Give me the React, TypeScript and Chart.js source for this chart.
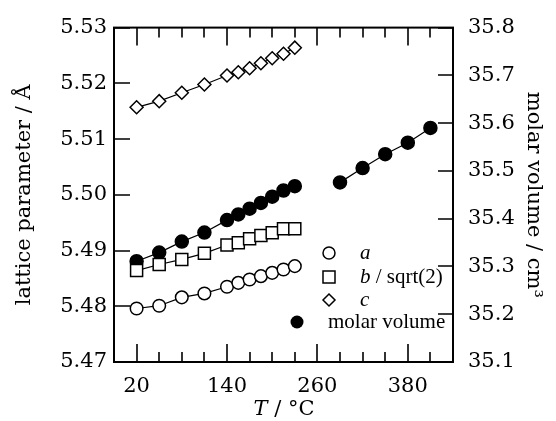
import React, { useEffect, useRef } from "react";
import { Chart, registerables } from "chart.js";

Chart.register(...registerables);

// ---- data ----
const temps = [20, 50, 80, 110, 140, 155, 170, 185, 200, 215, 230];
const aValues = [5.4796, 5.4801, 5.4816, 5.4823, 5.4835, 5.4842, 5.4848, 5.4854, 5.486, 5.4866, 5.4872];
const bValues = [5.4864, 5.4875, 5.4884, 5.4895, 5.491, 5.4914, 5.4921, 5.4927, 5.4932, 5.4939, 5.4939];
const cValues = [5.5157, 5.5168, 5.5183, 5.5198, 5.5214, 5.522, 5.5227, 5.5236, 5.5245, 5.5253, 5.5264];
const volumeLow = [35.311, 35.329, 35.352, 35.371, 35.397, 35.409, 35.421, 35.433, 35.446, 35.459, 35.468];
const tempsHigh = [290, 320, 350, 380, 410];
const volumeHigh = [35.476, 35.506, 35.535, 35.559, 35.59];

const xMajorTicks = [20, 140, 260, 380];
const xMinorTicks = [20, 50, 80, 110, 140, 170, 200, 230, 260, 290, 320, 350, 380, 410];
const leftTicks = [5.47, 5.48, 5.49, 5.5, 5.51, 5.52, 5.53];
const rightTicks = [35.1, 35.2, 35.3, 35.4, 35.5, 35.6, 35.7, 35.8];

const legendLabels = ["a", "b", "c", "molar volume"];

const AXIS_FONT = '"DejaVu Serif", serif';
const LEGEND_FONT = '"Liberation Serif", "DejaVu Serif", serif';

Chart.defaults.font.family = AXIS_FONT;

const toPts = (xs: number[], ys: number[]) => xs.map((x, i) => ({ x, y: ys[i] }));

const frameTicksPlugin = {
  id: "frameTicks",
  beforeDatasetsDraw(chart: any) {
    const { ctx, chartArea } = chart;
    const { left, right, top, bottom } = chartArea;
    const xs = chart.scales.x;
    const yl = chart.scales.y;
    const yr = chart.scales.y2;
    ctx.save();
    ctx.strokeStyle = "#000";
    ctx.lineWidth = 2;
    ctx.strokeRect(left, top, right - left, bottom - top);
    ctx.lineWidth = 1.6;
    ctx.beginPath();
    xMinorTicks.forEach((v) => {
      const px = Math.round(xs.getPixelForValue(v));
      const len = xMajorTicks.includes(v) ? 18 : 10;
      ctx.moveTo(px, bottom);
      ctx.lineTo(px, bottom - len);
      ctx.moveTo(px, top);
      ctx.lineTo(px, top + len);
    });
    leftTicks.forEach((v) => {
      const py = Math.round(yl.getPixelForValue(v));
      ctx.moveTo(left, py);
      ctx.lineTo(left + 16, py);
    });
    rightTicks.forEach((v) => {
      const py = Math.round(yr.getPixelForValue(v));
      ctx.moveTo(right, py);
      ctx.lineTo(right - 15, py);
    });
    ctx.stroke();
    ctx.restore();
  },
  afterDraw(chart: any) {
    const { ctx } = chart;
    ctx.save();
    ctx.fillStyle = "#000";
    ctx.strokeStyle = "#000";
    // x axis title: italic T
    ctx.textBaseline = "middle";
    const italic = `italic 21px ${AXIS_FONT}`;
    const regular = `21px ${AXIS_FONT}`;
    ctx.font = italic;
    const wT = ctx.measureText("T").width;
    ctx.font = regular;
    const rest = " / \u00B0C";
    const wR = ctx.measureText(rest).width;
    const cx = 284;
    const cy = 410;
    const x0 = cx - (wT + wR) / 2;
    ctx.textAlign = "left";
    ctx.font = italic;
    ctx.fillText("T", x0, cy);
    ctx.font = regular;
    ctx.fillText(rest, x0 + wT, cy);

    // legend
    ctx.lineWidth = 1.5;
    const mx = 329;
    const tx = 360;
    const rows = [253, 277, 300, 322];
    ctx.beginPath();
    ctx.arc(mx, rows[0], 6, 0, Math.PI * 2);
    ctx.fillStyle = "#fff";
    ctx.fill();
    ctx.stroke();
    ctx.fillStyle = "#fff";
    ctx.fillRect(mx - 6, rows[1] - 6, 12, 12);
    ctx.strokeRect(mx - 6, rows[1] - 6, 12, 12);
    ctx.beginPath();
    ctx.moveTo(mx, rows[2] - 6);
    ctx.lineTo(mx + 6, rows[2]);
    ctx.lineTo(mx, rows[2] + 6);
    ctx.lineTo(mx - 6, rows[2]);
    ctx.closePath();
    ctx.fill();
    ctx.stroke();
    ctx.beginPath();
    ctx.arc(297, rows[3], 6.5, 0, Math.PI * 2);
    ctx.fillStyle = "#000";
    ctx.fill();

    ctx.fillStyle = "#000";
    ctx.font = `italic 21px ${LEGEND_FONT}`;
    ctx.fillText(legendLabels[0], tx, rows[0]);
    ctx.fillText(legendLabels[1], tx, rows[1]);
    const wb = ctx.measureText(legendLabels[1]).width;
    ctx.font = `21px ${LEGEND_FONT}`;
    ctx.fillText(" / sqrt(2)", tx + wb, rows[1]);
    ctx.font = `italic 21px ${LEGEND_FONT}`;
    ctx.fillText(legendLabels[2], tx, rows[2]);
    ctx.font = `21px ${LEGEND_FONT}`;
    ctx.fillText(legendLabels[3], 328, rows[3]);
    ctx.restore();
  },
};

export default function App() {
  const ref = useRef<HTMLCanvasElement | null>(null);
  useEffect(() => {
    if (!ref.current) return;
    const lineBase = {
      showLine: true,
      borderColor: "#000",
      borderWidth: 1.2,
      pointBorderColor: "#000",
      pointBorderWidth: 1.5,
      pointBackgroundColor: "#fff",
    };
    const tickFont = { family: AXIS_FONT, size: 21 };
    const titleFont = { family: AXIS_FONT, size: 21 };
    const chart = new Chart(ref.current, {
      type: "scatter",
      data: {
        datasets: [
          { ...lineBase, label: "a", data: toPts(temps, aValues), pointStyle: "circle", pointRadius: 6.3, yAxisID: "y" },
          { ...lineBase, label: "b / sqrt(2)", data: toPts(temps, bValues), pointStyle: "rect", pointRadius: 8.5, yAxisID: "y" },
          { ...lineBase, label: "c", data: toPts(temps, cValues), pointStyle: "rectRot", pointRadius: 6.5, yAxisID: "y" },
          { ...lineBase, label: "molar volume", data: toPts(temps, volumeLow), pointStyle: "circle", pointRadius: 6.5, pointBackgroundColor: "#000", yAxisID: "y2" },
          { ...lineBase, label: "molar volume (high T)", data: toPts(tempsHigh, volumeHigh), pointStyle: "circle", pointRadius: 6.5, pointBackgroundColor: "#000", yAxisID: "y2" },
        ],
      },
      options: {
        animation: false,
        responsive: false,
        maintainAspectRatio: false,
        layout: { padding: { top: 23, left: 0, right: 0, bottom: 0 } },
        plugins: { legend: { display: false }, tooltip: { enabled: false } },
        scales: {
          x: {
            type: "linear",
            position: "bottom",
            min: -10,
            max: 440,
            afterBuildTicks: (s: any) => {
              s.ticks = xMajorTicks.map((v) => ({ value: v }));
            },
            afterFit: (s: any) => {
              s.height = 59;
            },
            ticks: { color: "#000", font: tickFont, padding: 12, maxRotation: 0, autoSkip: false },
            grid: { display: false, drawTicks: false },
            border: { display: false },
          },
          y: {
            position: "left",
            min: 5.47,
            max: 5.53,
            afterBuildTicks: (s: any) => {
              s.ticks = leftTicks.map((v) => ({ value: v }));
            },
            afterFit: (s: any) => {
              s.width = 114;
            },
            ticks: { color: "#000", font: tickFont, padding: 7, callback: (v: any) => Number(v).toFixed(2) },
            grid: { display: false, drawTicks: false },
            border: { display: false },
            title: { display: true, text: "lattice parameter / \u00C5", color: "#000", font: titleFont, padding: { top: 12, bottom: 0 } },
          },
          y2: {
            position: "right",
            min: 35.1,
            max: 35.8,
            afterBuildTicks: (s: any) => {
              s.ticks = rightTicks.map((v) => ({ value: v }));
            },
            afterFit: (s: any) => {
              s.width = 103;
            },
            ticks: { color: "#000", font: tickFont, padding: 15, callback: (v: any) => Number(v).toFixed(1) },
            grid: { display: false, drawTicks: false },
            border: { display: false },
            title: { display: true, text: "molar volume / cm\u00B3", color: "#000", font: titleFont, padding: { top: 10, bottom: 0 } },
          },
        },
      },
      plugins: [frameTicksPlugin],
    } as any);
    return () => chart.destroy();
  }, []);
  return (
    <div style={{ position: "fixed", left: 0, top: 0, width: 556, height: 421, background: "#fff" }}>
      <canvas ref={ref} width={556} height={421} style={{ display: "block", width: 556, height: 421 }} />
    </div>
  );
}
